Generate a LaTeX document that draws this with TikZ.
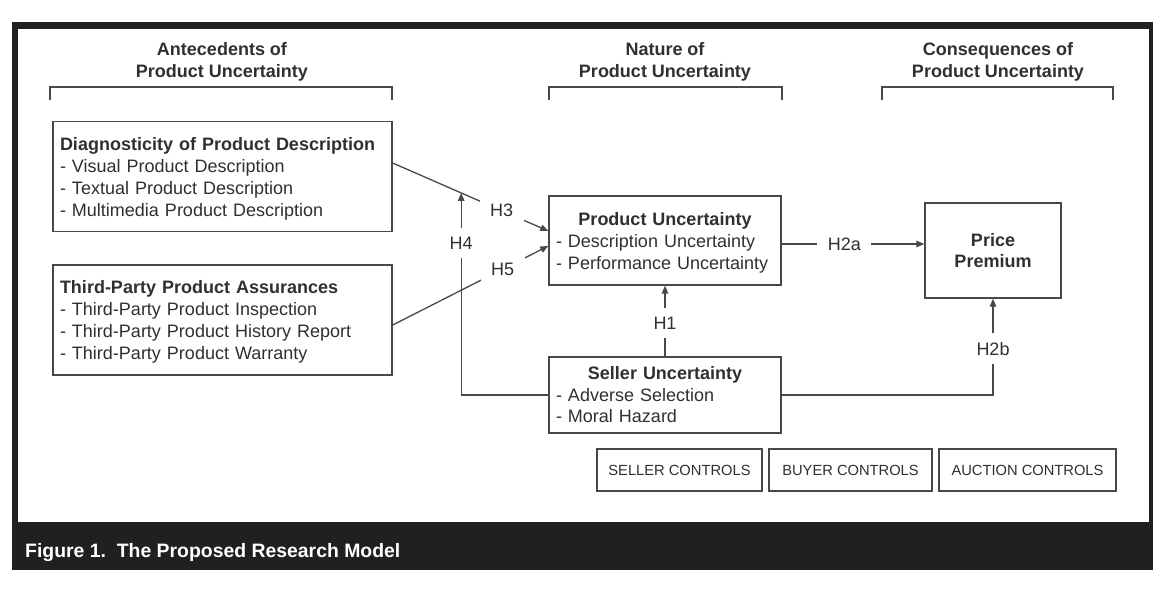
\documentclass[tikz,border=0pt]{standalone}
\usepackage{fontspec}
\setmainfont{Liberation Sans}
\usetikzlibrary{arrows.meta,calc}
\definecolor{ink}{HTML}{303030}
\definecolor{framec}{HTML}{202020}
\definecolor{linec}{HTML}{484848}
\newcommand{\topfix}{\rule{0pt}{17pt}}
\begin{document}
\begin{tikzpicture}[x=1pt,y=-1pt,
  every node/.style={text=ink},
  hdr/.style={align=center, font=\bfseries\fontsize{18}{22}\selectfont, inner sep=0pt, text depth=0pt},
  bracket/.style={draw=linec, line width=1.2pt},
  box/.style={draw=linec, line width=1.4pt, rectangle, inner xsep=7pt, inner ysep=0pt, align=left, font=\fontsize{18}{22}\selectfont},
  ctrl/.style={draw=linec, line width=1.2pt, rectangle, inner sep=0pt, font=\fontsize{14.7}{17}\selectfont, minimum height=42pt},
  conn/.style={draw=linec, line width=1.3pt},
  arr/.style={-{Triangle[length=8pt,width=6.5pt]}},
  lbl/.style={fill=white, font=\fontsize{18}{22}\selectfont, inner xsep=10.5pt, inner ysep=9pt}
]
\useasboundingbox (0,0) rectangle (1170,590);
% frame
\fill[framec] (12,22) rectangle (1153,570);
\fill[white] (18,29) rectangle (1149,522);
\node[anchor=base west, text=white, font=\bfseries\fontsize{19.4}{23}\selectfont, inner sep=0pt] (cap) at (25,557) {Figure 1.\ \ The Proposed Research Model};
% headers
\node[hdr] (h1) at (222,60) {Antecedents of\\Product Uncertainty};
\node[hdr] (h2) at (665,60) {Nature of\\Product Uncertainty};
\node[hdr] (h3) at (998,60) {Consequences of\\Product Uncertainty};
\draw[bracket] (50,100) -- (50,87) -- (392,87) -- (392,100);
\draw[bracket] (549,100) -- (549,87) -- (782,87) -- (782,100);
\draw[bracket] (882,100) -- (882,87) -- (1113,87) -- (1113,100);
% boxes
\node[box, text width=325pt, minimum height=110pt] (diag) at (222.5,176.5) {\topfix\textbf{Diagnosticity of Product Description}\\- Visual Product Description\\- Textual Product Description\\- Multimedia Product Description};
\node[box, text width=325pt, minimum height=110pt] (tp) at (222.5,320) {\topfix\textbf{Third-Party Product Assurances}\\- Third-Party Product Inspection\\- Third-Party Product History Report\\- Third-Party Product Warranty};
\node[box, text width=218pt, minimum height=89pt] (pu) at (665,240.5) {\makebox[218pt]{\topfix\bfseries Product Uncertainty}\\- Description Uncertainty\\- Performance Uncertainty};
\node[box, text width=218pt, minimum height=76pt, font=\fontsize{18}{21.5}\selectfont] (su) at (665,395) {\makebox[218pt]{\bfseries Seller Uncertainty}\\- Adverse Selection\\- Moral Hazard};
\node[box, align=center, inner sep=0pt, minimum width=136pt, minimum height=95pt, font=\bfseries\fontsize{18}{21}\selectfont] (pp) at (993,250.5) {Price\\Premium};
% controls
\node[ctrl, minimum width=165pt] (sc) at (679.5,470) {SELLER CONTROLS};
\node[ctrl, minimum width=163pt] (bc) at (850.5,470) {BUYER CONTROLS};
\node[ctrl, minimum width=177pt] (ac) at (1027.5,470) {AUCTION CONTROLS};
% connectors
\coordinate (h3s) at ($(diag.east)+(0,-13.5)$);
\coordinate (h3e) at ($(pu.west)+(0,-9.5)$);
\coordinate (h5s) at ($(tp.east)+(0,5)$);
\coordinate (h5e) at ($(pu.west)+(0,5.5)$);
\coordinate (h2s) at ($(pu.east)+(0,3.5)$);
\draw[conn,arr] (h3s) -- node[lbl,pos=0.7]{H3} (h3e);
\draw[conn,arr] (h5s) -- node[lbl,pos=0.707]{H5} (h5e);
\draw[conn,arr] (su.west) -| node[lbl,pos=0.876]{H4} ($(h3s)!0.44!(h3e)$);
\draw[conn,arr] (su.north) -- node[lbl,pos=0.47]{H1} (pu.south);
\draw[conn,arr] (h2s) -- node[lbl,pos=0.44]{H2a} (h2s -| pp.west);
\draw[conn,arr] (su.east) -| node[lbl,pos=0.74]{H2b} (pp.south);
\end{tikzpicture}
\end{document}
